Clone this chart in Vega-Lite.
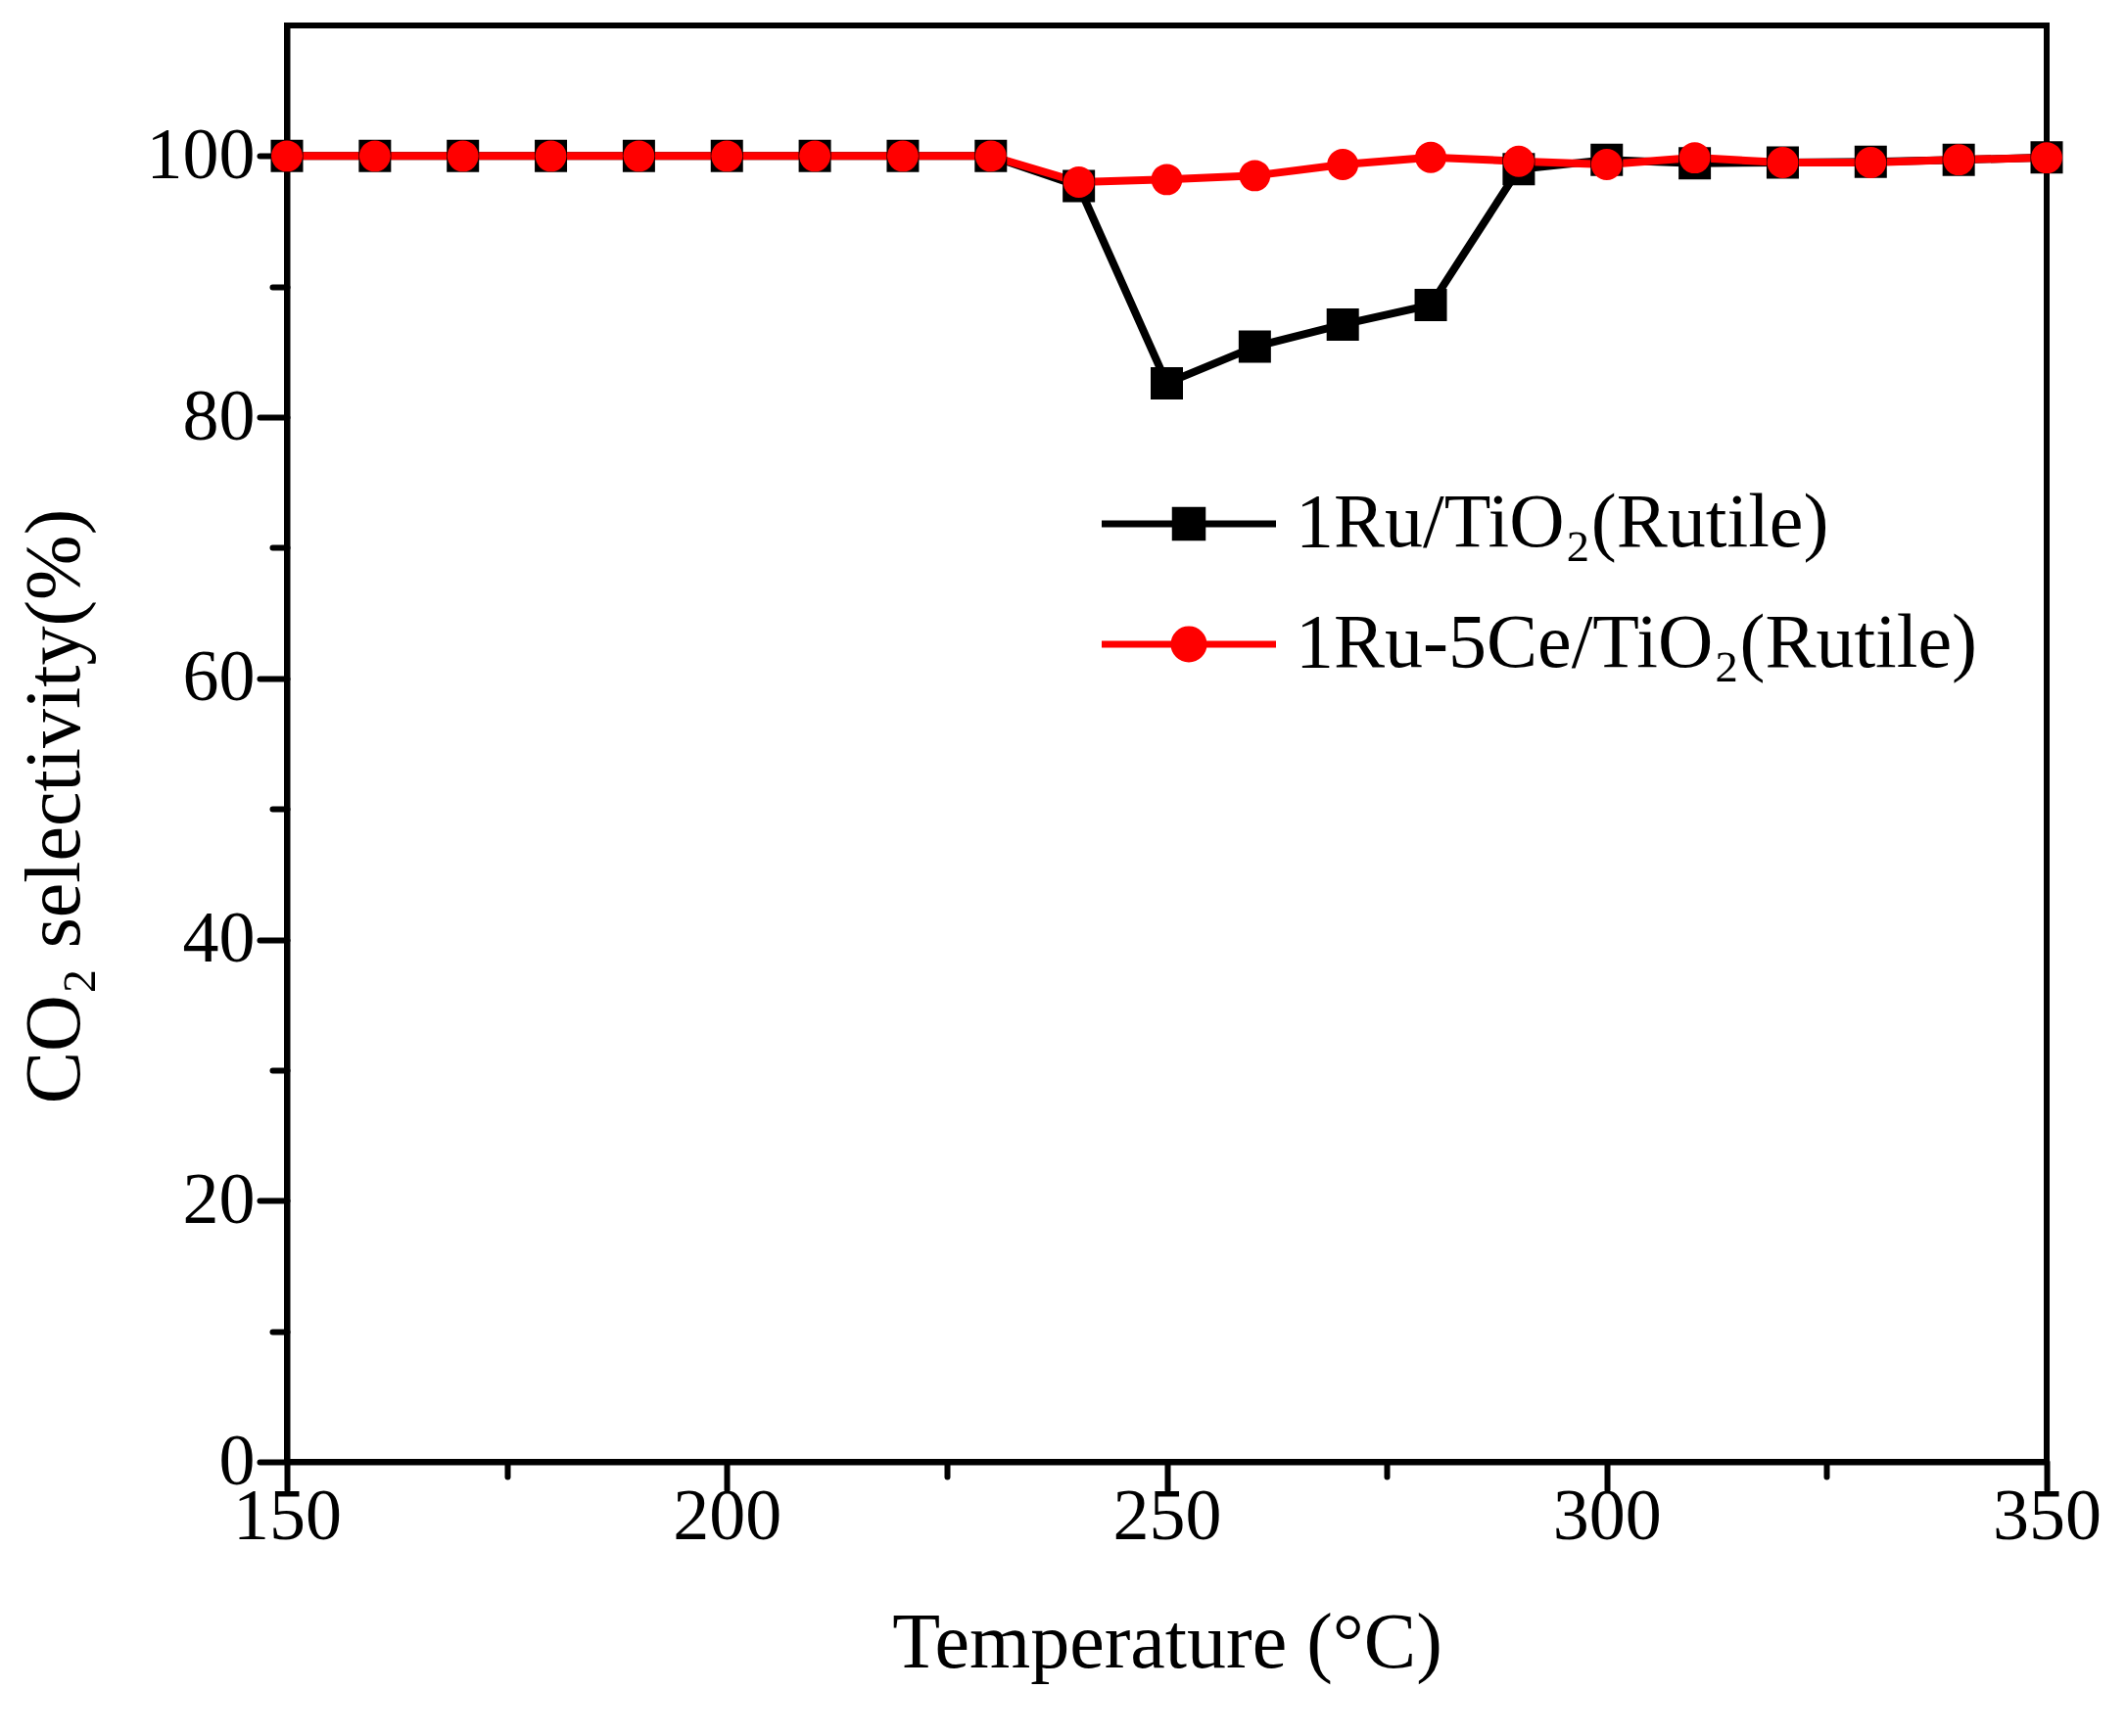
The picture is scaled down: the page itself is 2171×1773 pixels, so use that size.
{
  "$schema": "https://vega.github.io/schema/vega-lite/v6.json",
  "description": "CO2 selectivity vs temperature for two Ru catalysts",
  "width": 1797,
  "height": 1467,
  "autosize": "none",
  "padding": {"left": 293, "top": 26, "right": 81, "bottom": 280},
  "background": "white",
  "data": {
    "values": [
      {"temp": 150, "sel": 100, "cat": "1Ru/TiO₂(Rutile)"},
      {"temp": 160, "sel": 100, "cat": "1Ru/TiO₂(Rutile)"},
      {"temp": 170, "sel": 100, "cat": "1Ru/TiO₂(Rutile)"},
      {"temp": 180, "sel": 100, "cat": "1Ru/TiO₂(Rutile)"},
      {"temp": 190, "sel": 100, "cat": "1Ru/TiO₂(Rutile)"},
      {"temp": 200, "sel": 100, "cat": "1Ru/TiO₂(Rutile)"},
      {"temp": 210, "sel": 100, "cat": "1Ru/TiO₂(Rutile)"},
      {"temp": 220, "sel": 100, "cat": "1Ru/TiO₂(Rutile)"},
      {"temp": 230, "sel": 100, "cat": "1Ru/TiO₂(Rutile)"},
      {"temp": 240, "sel": 97.7, "cat": "1Ru/TiO₂(Rutile)"},
      {"temp": 250, "sel": 82.6, "cat": "1Ru/TiO₂(Rutile)"},
      {"temp": 260, "sel": 85.4, "cat": "1Ru/TiO₂(Rutile)"},
      {"temp": 270, "sel": 87.1, "cat": "1Ru/TiO₂(Rutile)"},
      {"temp": 280, "sel": 88.6, "cat": "1Ru/TiO₂(Rutile)"},
      {"temp": 290, "sel": 99.0, "cat": "1Ru/TiO₂(Rutile)"},
      {"temp": 300, "sel": 99.7, "cat": "1Ru/TiO₂(Rutile)"},
      {"temp": 310, "sel": 99.45, "cat": "1Ru/TiO₂(Rutile)"},
      {"temp": 320, "sel": 99.5, "cat": "1Ru/TiO₂(Rutile)"},
      {"temp": 330, "sel": 99.55, "cat": "1Ru/TiO₂(Rutile)"},
      {"temp": 340, "sel": 99.7, "cat": "1Ru/TiO₂(Rutile)"},
      {"temp": 350, "sel": 99.9, "cat": "1Ru/TiO₂(Rutile)"},
      {"temp": 150, "sel": 100, "cat": "1Ru-5Ce/TiO₂(Rutile)"},
      {"temp": 160, "sel": 100, "cat": "1Ru-5Ce/TiO₂(Rutile)"},
      {"temp": 170, "sel": 100, "cat": "1Ru-5Ce/TiO₂(Rutile)"},
      {"temp": 180, "sel": 100, "cat": "1Ru-5Ce/TiO₂(Rutile)"},
      {"temp": 190, "sel": 100, "cat": "1Ru-5Ce/TiO₂(Rutile)"},
      {"temp": 200, "sel": 100, "cat": "1Ru-5Ce/TiO₂(Rutile)"},
      {"temp": 210, "sel": 100, "cat": "1Ru-5Ce/TiO₂(Rutile)"},
      {"temp": 220, "sel": 100, "cat": "1Ru-5Ce/TiO₂(Rutile)"},
      {"temp": 230, "sel": 100, "cat": "1Ru-5Ce/TiO₂(Rutile)"},
      {"temp": 240, "sel": 98.0, "cat": "1Ru-5Ce/TiO₂(Rutile)"},
      {"temp": 250, "sel": 98.2, "cat": "1Ru-5Ce/TiO₂(Rutile)"},
      {"temp": 260, "sel": 98.5, "cat": "1Ru-5Ce/TiO₂(Rutile)"},
      {"temp": 270, "sel": 99.35, "cat": "1Ru-5Ce/TiO₂(Rutile)"},
      {"temp": 280, "sel": 99.9, "cat": "1Ru-5Ce/TiO₂(Rutile)"},
      {"temp": 290, "sel": 99.6, "cat": "1Ru-5Ce/TiO₂(Rutile)"},
      {"temp": 300, "sel": 99.35, "cat": "1Ru-5Ce/TiO₂(Rutile)"},
      {"temp": 310, "sel": 99.87, "cat": "1Ru-5Ce/TiO₂(Rutile)"},
      {"temp": 320, "sel": 99.5, "cat": "1Ru-5Ce/TiO₂(Rutile)"},
      {"temp": 330, "sel": 99.5, "cat": "1Ru-5Ce/TiO₂(Rutile)"},
      {"temp": 340, "sel": 99.72, "cat": "1Ru-5Ce/TiO₂(Rutile)"},
      {"temp": 350, "sel": 99.87, "cat": "1Ru-5Ce/TiO₂(Rutile)"}
    ]
  },
  "layer": [
    {
      "mark": {"type": "line", "strokeWidth": 8, "clip": false},
      "encoding": {
        "x": {
          "field": "temp",
          "type": "quantitative",
          "scale": {"domain": [150, 350], "nice": false, "zero": false},
          "axis": {
            "title": "Temperature (°C)",
            "values": [150, 200, 250, 300, 350],
            "grid": false,
            "labelFlush": false,
            "tickSize": 28,
            "labelPadding": -8,
            "titlePadding": 53
          }
        },
        "y": {
          "field": "sel",
          "type": "quantitative",
          "scale": {"domain": [0, 110], "nice": false},
          "axis": {
            "title": "CO₂ selectivity(%)",
            "values": [0, 20, 40, 60, 80, 100],
            "grid": false,
            "labelFlush": false,
            "tickSize": 28,
            "labelPadding": 5,
            "titlePadding": 52,
            "titleY": 797
          }
        },
        "color": {
          "field": "cat",
          "type": "nominal",
          "sort": null,
          "scale": {
            "domain": ["1Ru/TiO₂(Rutile)", "1Ru-5Ce/TiO₂(Rutile)"],
            "range": ["#000000", "#ff0000"]
          },
          "legend": {
            "orient": "none",
            "legendX": 855,
            "legendY": 443,
            "title": null,
            "padding": 0,
            "rowPadding": 18,
            "symbolSize": 15625,
            "symbolType": "M-1.424,0H1.424",
            "labelOffset": 43,
            "symbolStrokeWidth": 7,
            "labelLimit": 0,
            "encode": {
              "symbols": {
                "update": {
                  "shape": {"signal": "datum.value === '1Ru/TiO₂(Rutile)' ? 'M-1.424,0H1.424M-0.22,-0.22H0.22V0.22H-0.22Z' : 'M-1.424,0H1.424M-0.24,0A0.24,0.24,0,1,1,0.24,0A0.24,0.24,0,1,1,-0.24,0Z'"},
                  "size": {"value": 15625},
                  "strokeWidth": {"value": 7},
                  "fill": {"signal": "datum.value === '1Ru/TiO₂(Rutile)' ? '#000000' : '#ff0000'"},
                  "stroke": {"signal": "datum.value === '1Ru/TiO₂(Rutile)' ? '#000000' : '#ff0000'"},
                  "opacity": {"value": 1},
                  "fillOpacity": {"value": 1},
                  "strokeOpacity": {"value": 1}
                }
              }
            }
          }
        }
      }
    },
    {
      "transform": [{"filter": "datum.cat === '1Ru/TiO₂(Rutile)'"}],
      "mark": {"type": "point", "shape": "square", "filled": true, "color": "#000000", "opacity": 1, "strokeWidth": 0, "size": 1089, "clip": false},
      "encoding": {
        "x": {
          "field": "temp",
          "type": "quantitative",
          "axis": {
            "title": null,
            "values": [175, 225, 275, 325],
            "labels": false,
            "domain": false,
            "grid": false,
            "tickSize": 15,
            "orient": "bottom"
          }
        },
        "y": {
          "field": "sel",
          "type": "quantitative",
          "axis": {
            "title": null,
            "values": [10, 30, 50, 70, 90],
            "labels": false,
            "domain": false,
            "grid": false,
            "tickSize": 15,
            "orient": "left"
          }
        }
      }
    },
    {
      "transform": [{"filter": "datum.cat === '1Ru-5Ce/TiO₂(Rutile)'"}],
      "mark": {"type": "point", "shape": "circle", "filled": true, "color": "#ff0000", "opacity": 1, "strokeWidth": 0, "size": 1018, "clip": false},
      "encoding": {
        "x": {"field": "temp", "type": "quantitative", "axis": null},
        "y": {"field": "sel", "type": "quantitative", "axis": null}
      }
    }
  ],
  "resolve": {"axis": {"x": "independent", "y": "independent"}},
  "config": {
    "font": "Liberation Serif",
    "view": {"stroke": "#000000", "strokeWidth": 6},
    "axis": {
      "domainColor": "#000000",
      "domainWidth": 6,
      "tickColor": "#000000",
      "tickWidth": 6,
      "tickCap": "round",
      "labelFont": "Liberation Serif",
      "labelFontSize": 74,
      "labelColor": "#000000",
      "titleFont": "Liberation Serif",
      "titleFontSize": 80,
      "titleFontWeight": "normal",
      "titleColor": "#000000"
    },
    "legend": {
      "labelFont": "Liberation Serif",
      "labelFontSize": 78,
      "labelColor": "#000000"
    }
  }
}
